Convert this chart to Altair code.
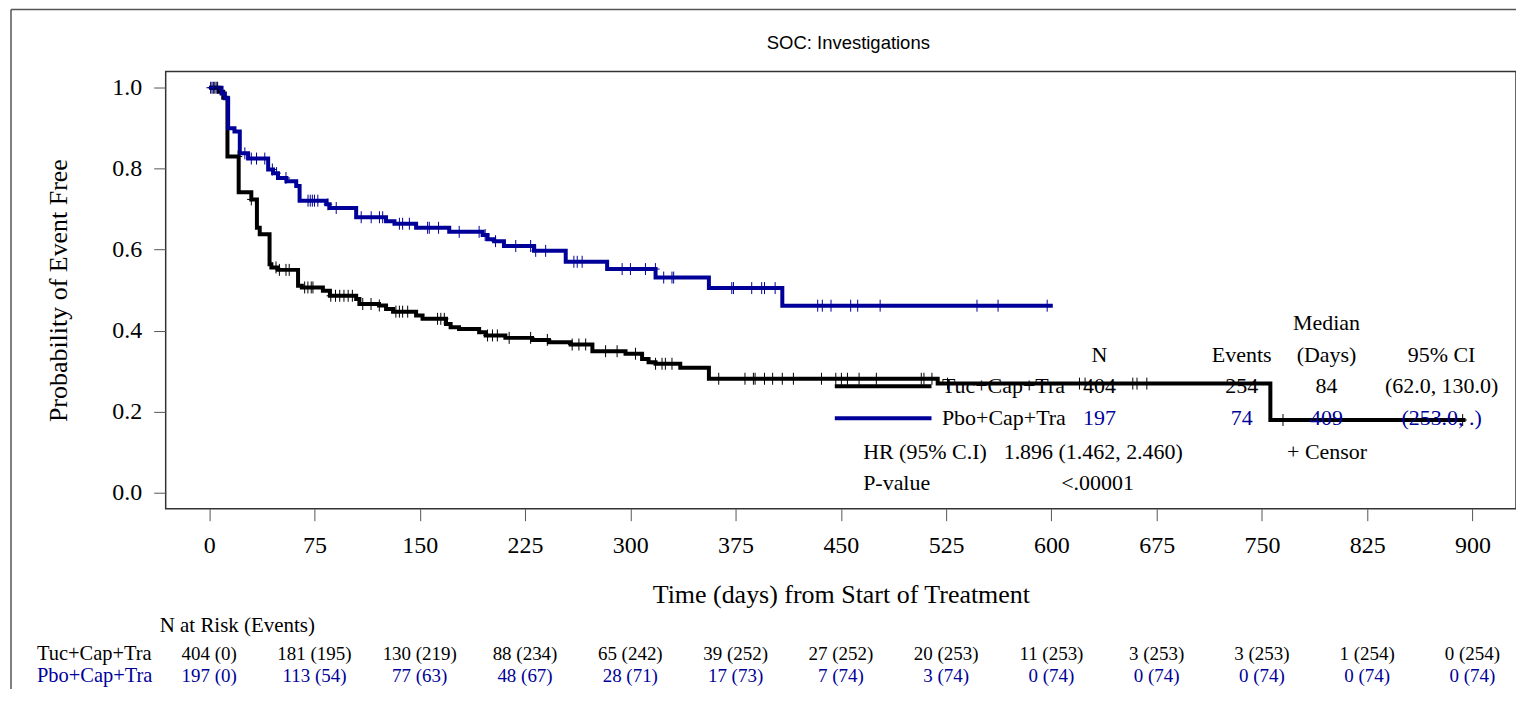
import altair as alt
import pandas as pd
import numpy as np

# ---------------- data ----------------
# Kaplan-Meier steps, Tuc+Cap+Tra (black)
tuc_t = [0, 7, 10, 13, 21, 30, 34, 36, 43, 44.3, 49, 63.3, 66, 81, 86, 104.7, 107, 121, 126, 131,
         147.4, 152, 168.7, 172, 178, 192.3, 197, 211, 230, 242, 257.5, 273, 296.6, 308.4, 313,
         318, 335.6, 356, 519, 756, 895]
tuc_s = [1.0, 0.99, 0.975, 0.83, 0.742, 0.724, 0.654, 0.638, 0.564, 0.556, 0.550, 0.511, 0.5066,
         0.4985, 0.486, 0.478, 0.4657, 0.462, 0.4534, 0.4468, 0.437, 0.429, 0.4165, 0.408, 0.404,
         0.396, 0.388, 0.382, 0.377, 0.371, 0.3656, 0.349, 0.3428, 0.330, 0.322, 0.318, 0.308,
         0.281, 0.269, 0.179, 0.179]

# Kaplan-Meier steps, Pbo+Cap+Tra (blue)
pbo_t = [0, 8.8, 11.2, 13.5, 18, 21.8, 27.7, 42, 45.5, 49, 55, 62, 64.4, 83.4, 85.8, 104.7, 126,
         132, 147.4, 171, 194.8, 198.3, 203, 210, 231.4, 254, 283.5, 318, 356, 408.3, 601]
pbo_s = [1.0, 0.986, 0.974, 0.90, 0.892, 0.838, 0.825, 0.798, 0.789, 0.777, 0.769, 0.757, 0.721,
         0.712, 0.703, 0.680, 0.670, 0.664, 0.654, 0.644, 0.636, 0.6255, 0.621, 0.609, 0.597,
         0.570, 0.552, 0.531, 0.505, 0.4615, 0.4615]

# censoring times
tuc_cens = [2, 4, 6, 20.6, 30, 47.6, 50, 54.7, 57, 68, 70.3, 72.7, 73.9, 86.6, 90, 93, 96, 99, 102,
            109.4, 115.3, 121.2, 133, 135.5, 137.8, 141.4, 162.7, 165, 167.5, 198.3, 201.8, 205.3,
            213.7, 229, 240.9, 258.6, 263.4, 268.2, 282.4, 290.6, 303.7, 318, 322.6, 325, 329.7,
            363, 381.7, 387.7, 388.9, 395.6, 401.4, 408.3, 416.2, 436.2, 446.4, 450.4, 454.7, 463,
            475.3, 507.3, 509.2, 514.9, 526, 620, 624, 658, 661, 668, 765, 893]
pbo_cens = [1, 3, 5, 25.4, 30, 33.7, 39.6, 45, 48, 54.7, 70.4, 72, 73.5, 75, 77.4, 84.6, 90.5,
            108.3, 115.4, 121.3, 123.6, 135.5, 137.8, 142.6, 155.6, 156.8, 163.4, 178.1, 192.3,
            196.6, 204, 218.4, 229, 232.6, 239.7, 259.8, 262.2, 265.7, 294.2, 300.1, 310.8, 317.9,
            323.8, 329.7, 330.9, 372.3, 373.5, 386.5, 393.6, 395.6, 403.2, 433.5, 436.8, 443, 457,
            462, 478, 547, 562, 597]

groups = ["Tuc+Cap+Tra", "Pbo+Cap+Tra"]
colors = ["#000000", "#000099"]

# number at risk table
risk_days = [0, 75, 150, 225, 300, 375, 450, 525, 600, 675, 750, 825, 900]
tuc_n = [404, 181, 130, 88, 65, 39, 27, 20, 11, 3, 3, 1, 0]
tuc_ev = [0, 195, 219, 234, 242, 252, 252, 253, 253, 253, 253, 254, 254]
pbo_n = [197, 113, 77, 48, 28, 17, 7, 3, 0, 0, 0, 0, 0]
pbo_ev = [0, 54, 63, 67, 71, 73, 74, 74, 74, 74, 74, 74, 74]

# summary statistics
stat_n = ["404", "197"]
stat_events = ["254", "74"]
stat_median = ["84", "409"]
stat_ci = ["(62.0, 130.0)", "(253.0, .)"]
hr_text = "1.896 (1.462, 2.460)"
p_text = "<.00001"

# ---------------- tables ----------------
curves = pd.concat([
    pd.DataFrame({"t": tuc_t, "s": tuc_s, "g": groups[0], "o": 0}),
    pd.DataFrame({"t": pbo_t, "s": pbo_s, "g": groups[1], "o": 1}),
])


def cens_df(times, t, s, g, o):
    idx = np.searchsorted(np.array(t), np.array(times), side="right") - 1
    return pd.DataFrame({"t": times, "s": np.array(s)[idx], "g": g, "o": o})


cens = pd.concat([cens_df(tuc_cens, tuc_t, tuc_s, groups[0], 0),
                  cens_df(pbo_cens, pbo_t, pbo_s, groups[1], 1)])

SERIF = "Liberation Serif"
color_scale = alt.Scale(domain=groups, range=colors)

x_enc = alt.X("t:Q", scale=alt.Scale(domain=[-31, 931], nice=False, zero=False),
              axis=alt.Axis(values=risk_days, title="Time (days) from Start of Treatment",
                            labelFontSize=24, titleFontSize=26, tickSize=12, labelPadding=13,
                            titlePadding=24, labelFlush=False))
y_enc = alt.Y("s:Q", scale=alt.Scale(domain=[-0.04, 1.04], nice=False, zero=False),
              axis=alt.Axis(values=[0, 0.2, 0.4, 0.6, 0.8, 1.0], format=".1f",
                            title="Probability of Event Free", labelFontSize=24,
                            titleFontSize=26, tickSize=12, labelPadding=12, titlePadding=40))

lines = alt.Chart(curves).mark_line(interpolate="step-after", strokeWidth=4).encode(
    x=x_enc, y=y_enc, color=alt.Color("g:N", scale=color_scale, legend=None),
    order=alt.Order("t:Q"), detail="o:N")

plus = "M-0.7,0L0.7,0M0,-1L0,1"
cmarks = alt.Chart(cens).mark_point(shape=plus, filled=False, size=144, strokeWidth=1,
                                    opacity=1).encode(
    x=x_enc, y=y_enc, color=alt.Color("g:N", scale=color_scale, legend=None))

# legend / statistics block inside the plot (positions in data units)
lx0, lx1 = 445.7, 514.6
row_y = [0.2624, 0.1836]
leg_lines = pd.DataFrame({"t": [lx0, lx0], "t2": [lx1, lx1], "s": row_y, "g": groups})
leg_rules = alt.Chart(leg_lines).mark_rule(strokeWidth=4).encode(
    x=x_enc, x2="t2:Q", y=y_enc, color=alt.Color("g:N", scale=color_scale, legend=None))

txt_rows = []
col_x = {"N": 634.3, "Events": 735.6, "Median": 796, "CI": 878}
hy = 0.3386
txt_rows.append((col_x["Median"], 0.418, "Median", "center", "#000000"))
txt_rows.append((col_x["N"], hy, "N", "center", "#000000"))
txt_rows.append((col_x["Events"], hy, "Events", "center", "#000000"))
txt_rows.append((col_x["Median"], hy, "(Days)", "center", "#000000"))
txt_rows.append((col_x["CI"], hy, "95% CI", "center", "#000000"))
for i in range(2):
    c = colors[i]
    txt_rows.append((522, row_y[i], groups[i], "left", "#000000"))
    txt_rows.append((col_x["N"], row_y[i], stat_n[i], "center", c))
    txt_rows.append((col_x["Events"], row_y[i], stat_events[i], "center", c))
    txt_rows.append((col_x["Median"], row_y[i], stat_median[i], "center", c))
    txt_rows.append((col_x["CI"], row_y[i], stat_ci[i], "center", c))
txt_rows.append((465.9, 0.1008, "HR (95% C.I)", "left", "#000000"))
txt_rows.append((566, 0.1008, hr_text, "left", "#000000"))
txt_rows.append((767.9, 0.1008, "+ Censor", "left", "#000000"))
txt_rows.append((465.9, 0.0246, "P-value", "left", "#000000"))
txt_rows.append((607, 0.0246, p_text, "left", "#000000"))
txt = pd.DataFrame(txt_rows, columns=["t", "s", "label", "al", "col"])

text_layers = []
for al in ["left", "center"]:
    d = txt[txt["al"] == al]
    text_layers.append(alt.Chart(d).mark_text(align=al, baseline="middle", font=SERIF,
                                              fontSize=22).encode(
        x=x_enc, y=y_enc, text="label:N", color=alt.Color("col:N", scale=None)))

# number-at-risk table below the axis
risk = pd.concat([
    pd.DataFrame({"t": risk_days, "label": [f"{n} ({e})" for n, e in zip(tuc_n, tuc_ev)],
                  "row": 0}),
    pd.DataFrame({"t": risk_days, "label": [f"{n} ({e})" for n, e in zip(pbo_n, pbo_ev)],
                  "row": 1}),
])
risk_t = alt.Chart(risk[risk["row"] == 0]).mark_text(baseline="middle", font=SERIF, fontSize=19,
                                                      color=colors[0]).encode(
    x=x_enc, y=alt.value(584), text="label:N")
risk_p = alt.Chart(risk[risk["row"] == 1]).mark_text(baseline="middle", font=SERIF, fontSize=19,
                                                      color=colors[1]).encode(
    x=x_enc, y=alt.value(606), text="label:N")
row_lab = pd.DataFrame({"label": ["N at Risk (Events)", groups[0], groups[1]],
                        "col": ["#000000", colors[0], colors[1]],
                        "fs": [21, 20.5, 20.5],
                        "px": [-6, -129, -129], "py": [556, 584, 606]})
row_labels = alt.Chart(row_lab).mark_text(align="left", baseline="middle", font=SERIF).encode(
    x=alt.X("px:Q", scale=None), y=alt.Y("py:Q", scale=None), text="label:N",
    size=alt.Size("fs:Q", scale=None), color=alt.Color("col:N", scale=None))

# outer page frame: top and left edges only
one = pd.DataFrame({"a": [0]})
frame_left = alt.Chart(one).mark_rule(color="#555", strokeWidth=1.5).encode(
    x=alt.value(-155), y=alt.value(-62.2), y2=alt.value(660))
frame_top = alt.Chart(one).mark_rule(color="#555", strokeWidth=1.5).encode(
    x=alt.value(-155), x2=alt.value(1380), y=alt.value(-62.2))

# chart title
title = alt.Chart(pd.DataFrame({"label": ["SOC: Investigations"]})).mark_text(
    font="Liberation Sans", fontSize=18.5, align="center", baseline="middle",
    color="#000000").encode(x=alt.value(684), y=alt.value(-29), text="label:N")

chart = alt.layer(
    frame_left, frame_top, title, lines, cmarks, leg_rules, *text_layers, risk_t, risk_p,
    row_labels
).properties(
    width=1353, height=438,
    autosize=alt.AutoSizeParams(type="none"),
    padding={"left": 158, "top": 63, "right": 0, "bottom": 180},
).configure_view(stroke="#333", strokeWidth=1.5).configure_axis(
    labelFont=SERIF, titleFont=SERIF, titleFontWeight="normal", labelColor="#000",
    titleColor="#000", tickColor="#555", domain=False, grid=False
)

chart.save("out.html", embed_options={"renderer": "svg", "actions": False})
